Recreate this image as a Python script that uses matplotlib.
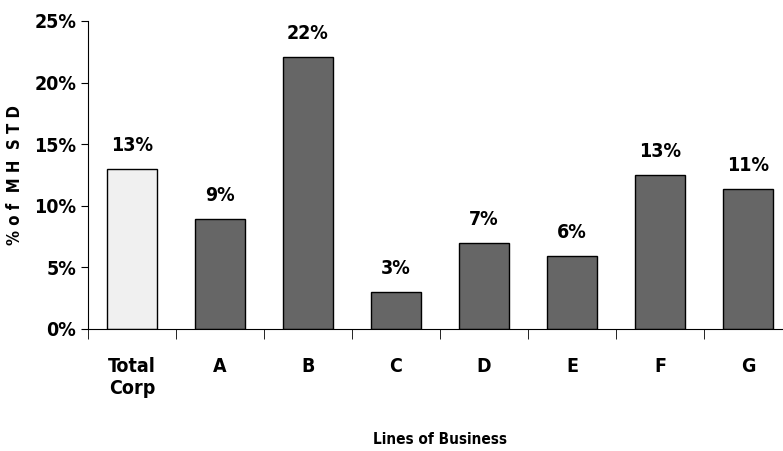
import matplotlib
matplotlib.use('Agg')
import matplotlib.pyplot as plt
from matplotlib import font_manager
from matplotlib.ticker import FixedLocator, NullFormatter

# Dados do gráfico
categorias = ['Total\nCorp', 'A', 'B', 'C', 'D', 'E', 'F', 'G']
valores = [13.0, 8.9, 22.1, 3.0, 7.0, 5.9, 12.5, 11.4]
rotulos = ['13%', '9%', '22%', '3%', '7%', '6%', '13%', '11%']
cores = ['#f0f0f0'] + ['#666666'] * 7
yticks = [0, 5, 10, 15, 20, 25]
ytick_labels = ['0%', '5%', '10%', '15%', '20%', '25%']

# procura uma fonte condensada instalada
condensadas = [f.fname for f in font_manager.fontManager.ttflist
               if 'Condensed' in f.fname and 'Bold' in f.fname and 'Oblique' not in f.fname]

if condensadas:
    fp = font_manager.FontProperties(fname=condensadas[0])
else:
    fp = font_manager.FontProperties(family='DejaVu Sans', weight='bold')


def fonte(tam):
    p = fp.copy()
    p.set_size(tam)
    return p


fig = plt.figure(figsize=(7.83, 4.51), dpi=100)
ax = fig.add_axes([88 / 783, 122 / 451, 704 / 783, 308 / 451])

x = list(range(len(categorias)))
barras = ax.bar(x, valores, width=0.575, color=cores, edgecolor='black', linewidth=1)

for b, r in zip(barras, rotulos):
    ax.annotate(r, (b.get_x() + b.get_width() / 2, b.get_height()),
                xytext=(0, 10), textcoords='offset points',
                ha='center', va='bottom', fontproperties=fonte(14))

ax.set_xlim(-0.5, len(categorias) - 0.5)
ax.set_ylim(0, 25)
ax.set_yticks(yticks)
ax.set_yticklabels(ytick_labels, fontproperties=fonte(14))
ax.set_xticks(x)
ax.set_xticklabels(categorias, fontproperties=fonte(14))
ax.tick_params(axis='x', length=0, pad=20)
ax.xaxis.set_minor_locator(FixedLocator([i - 0.5 for i in range(len(categorias) + 1)]))
ax.xaxis.set_minor_formatter(NullFormatter())
ax.tick_params(axis='x', which='minor', length=7, direction='out')
ax.tick_params(axis='y', length=5, direction='out')

ax.spines['top'].set_visible(False)
ax.spines['right'].set_visible(False)

ax.set_ylabel('% o f  M H  S T D', fontproperties=fonte(12), labelpad=7)
fig.text(440 / 783, 11 / 451, 'Lines of Business', ha='center', va='center',
         fontproperties=fonte(11))

plt.savefig('out.png', dpi=100)
